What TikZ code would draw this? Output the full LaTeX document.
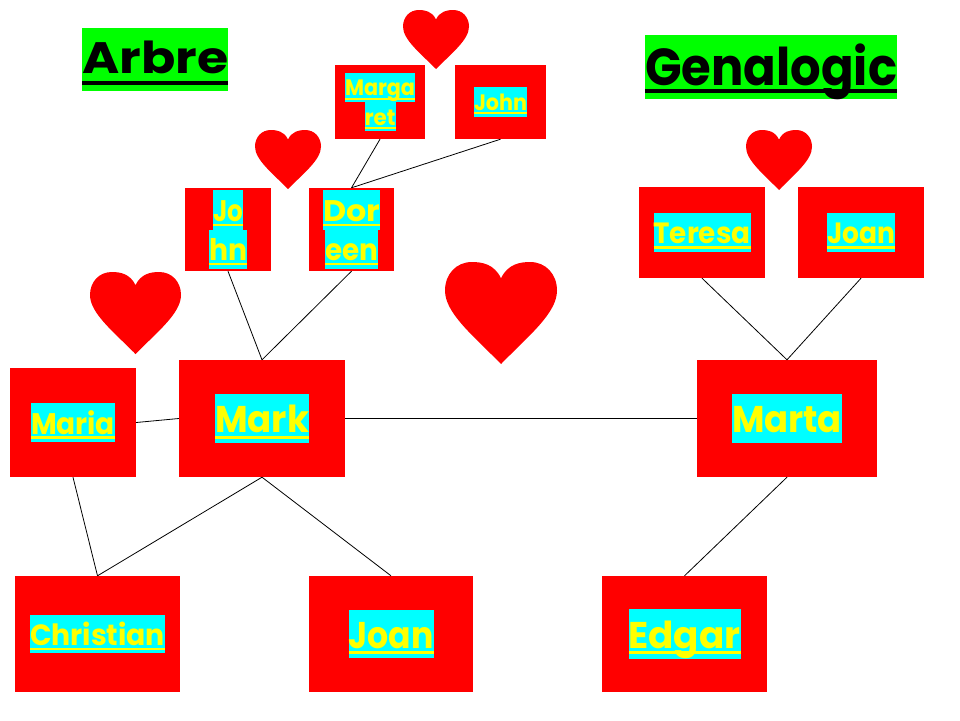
\documentclass[tikz,border=0pt]{standalone}
\usepackage{fontspec}
\setmainfont{Poppins}
\usepackage{graphicx}
\definecolor{cy}{RGB}{0,255,255}
\definecolor{yl}{RGB}{255,255,0}
\definecolor{gr}{RGB}{0,255,0}
\definecolor{rd}{RGB}{255,0,0}
% #1 box size, #2 target width, #3 underline (1/0), #4 text
\newcommand{\nm}[4]{\begingroup\bfseries
 \pgfmathsetmacro\fs{0.93*#1}%
 \pgfmathsetmacro\sd{0.25*#1}\pgfmathsetmacro\sh{1.22*#1}%
 \pgfmathsetmacro\ud{0.15*#1}\pgfmathsetmacro\uh{0.075*#1}%
 \fontsize{\fs pt}{\fs pt}\selectfont
 \sbox0{\color{yl}#4}%
 \pgfmathsetmacro\fac{#2/\the\wd0}%
 \setlength{\fboxsep}{0pt}%
 \colorbox{cy}{\rule[-\sd pt]{0pt}{\sh pt}\scalebox{\fac}[1]{\color{yl}\ifnum#3=1 \rlap{\rule[-\ud pt]{\wd0}{\uh pt}}\fi\usebox0}}%
 \endgroup}
\newcommand{\twol}[2]{\vbox{\offinterlineskip\halign{\hfil##\hfil\cr#1\cr#2\cr}}}
% title: #1 size, #2 width, #3 underline offset, #4 text
\newcommand{\fitt}[4]{\begingroup\bfseries\fontsize{#1pt}{#1pt}\selectfont
 \sbox0{#4}\pgfmathsetmacro\fac{#2/\the\wd0}%
 \scalebox{\fac}[1]{\rlap{\rule[-#3pt]{\wd0}{4pt}}\usebox0}\endgroup}
\newcommand{\heart}[4]{\begin{scope}[shift={(#1,#2)},x=#3pt,y=-#4pt]
 \fill[rd] (0.5,0.16) .. controls (0.44,0.02) and (0.33,0) .. (0.24,0)
  .. controls (0.1,0) and (0,0.12) .. (0,0.28)
  .. controls (0,0.5) and (0.25,0.72) .. (0.5,1)
  .. controls (0.75,0.72) and (1,0.5) .. (1,0.28)
  .. controls (1,0.12) and (0.9,0) .. (0.76,0)
  .. controls (0.67,0) and (0.56,0.02) .. (0.5,0.16) -- cycle;
 \end{scope}}
\tikzset{
 rbox/.style={fill=rd, inner sep=0pt, draw=none},
 conn/.style={draw=black, line width=0.8pt},
 ttl/.style={fill=gr, inner sep=0pt, text=black, anchor=base west},
}
\begin{document}
\begin{tikzpicture}[x=1pt,y=-1pt]
\fill[white] (0,0) rectangle (960,720);
\useasboundingbox (0,0) rectangle (960,720);
% titles
\node[ttl, text height=45pt, text depth=18pt] (arbre) at (82,73) {\fitt{44}{146}{12}{Arbre}};
\node[ttl, text height=50pt, text depth=14pt] (gen) at (645,85) {\fitt{52}{252}{8}{Genalogic}};
% hearts
\heart{403}{10}{66}{59}
\heart{255}{130}{66}{59}
\heart{746}{130}{66}{60}
\heart{90}{272}{91}{82}
\heart{445}{262}{112}{102}
% boxes
\node[rbox, minimum width=90pt, minimum height=74pt] (marg) at (380,102) {\twol{\nm{24}{70}{1}{Marga}}{\nm{24}{31}{1}{ret}}};
\node[rbox, minimum width=91pt, minimum height=74pt] (johnt) at (500.5,102) {\nm{24}{53}{1}{John}};
\node[rbox, minimum width=86pt, minimum height=83pt] (john) at (228,229.5) {\twol{\nm{32}{30}{1}{Jo}}{\nm{32}{38}{1}{hn}}};
\node[rbox, minimum width=85pt, minimum height=83pt] (dor) at (351.5,229.5) {\twol{\nm{32}{57}{1}{Dor}}{\nm{32}{53}{1}{een}}};
\node[rbox, minimum width=126pt, minimum height=91pt] (teresa) at (702,232.5) {\nm{31.5}{97}{1}{Teresa}};
\node[rbox, minimum width=126pt, minimum height=91pt] (joanr) at (861,232.5) {\nm{31.5}{68}{1}{Joan}};
\node[rbox, minimum width=126pt, minimum height=109pt] (maria) at (73,422.5) {\nm{32}{84}{1}{Maria}};
\node[rbox, minimum width=166pt, minimum height=117pt] (mark) at (262,418.5) {\nm{40}{94}{1}{Mark}};
\node[rbox, minimum width=180pt, minimum height=117pt] (marta) at (787,418.5) {\nm{40}{110}{0}{Marta}};
\node[rbox, minimum width=165pt, minimum height=116pt] (chris) at (97.5,634) {\nm{31.5}{135}{1}{Christian}};
\node[rbox, minimum width=164pt, minimum height=116pt] (joanb) at (391,634) {\nm{40}{85}{1}{Joan}};
\node[rbox, minimum width=165pt, minimum height=116pt] (edgar) at (684.5,634) {\nm{40}{112}{1}{Edgar}};
% connectors
\draw[conn] (marg.south) -- (dor.north);
\draw[conn] (johnt.south) -- (dor.north);
\draw[conn] (john.south) -- (mark.north);
\draw[conn] (dor.south) -- (mark.north);
\draw[conn] (maria.east) -- (mark.west);
\draw[conn] (mark.east) -- (marta.west);
\draw[conn] (maria.south) -- (chris.north);
\draw[conn] (mark.south) -- (chris.north);
\draw[conn] (mark.south) -- (joanb.north);
\draw[conn] (teresa.south) -- (marta.north);
\draw[conn] (joanr.south) -- (marta.north);
\draw[conn] (marta.south) -- (edgar.north);
\end{tikzpicture}
\end{document}
